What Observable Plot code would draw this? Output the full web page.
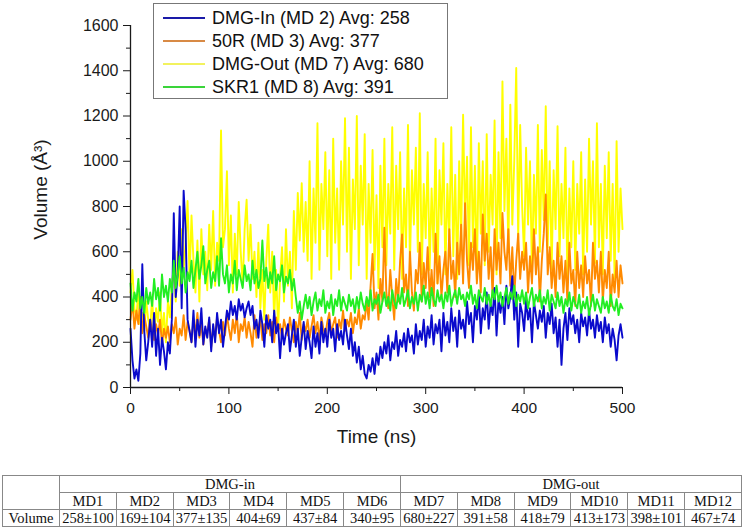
<!DOCTYPE html>
<html><head><meta charset="utf-8">
<script src="https://cdn.jsdelivr.net/npm/d3@7"></script>
<script src="https://cdn.jsdelivr.net/npm/@observablehq/plot@0.6"></script>
<style>
body{margin:0;background:#fff;font-family:"Liberation Sans",Arial,sans-serif;}
#wrap{position:relative;width:750px;height:530px;}
#legend{position:absolute;left:153px;top:3px;width:295px;height:96px;border:1px solid #777;background:#fff;box-sizing:border-box;}
.lrow{position:absolute;left:0;height:22px;width:290px;}
.lline{position:absolute;left:9px;width:42px;height:2px;top:10px;}
.ltext{position:absolute;left:58px;top:0;font-size:18px;line-height:22px;color:#111;white-space:nowrap;}
table{border-collapse:collapse;font-family:"Liberation Serif","Times New Roman",serif;font-size:14.5px;position:absolute;left:2px;top:475px;width:740px;table-layout:fixed;color:#111;}
td{border:1px solid #888;text-align:center;height:16px;padding:0;line-height:15px;}
</style>
</head><body>
<div id="wrap"><div id="chart"></div><div id="legend"></div><div id="tbl"></div></div>
<script>
// time step (ns) between sampled frames
const step = 2;
const yellowVals = [
420,520,350,300,450,280,330,250,380,300,
260,400,220,350,290,420,240,330,200,380,
310,450,520,380,600,450,700,520,640,824,
480,760,560,420,650,380,700,500,600,430,
720,520,780,450,640,560,1136,620,700,956,
540,760,420,680,500,820,600,450,700,830,
560,720,480,600,400,640,350,520,300,560,
720,420,600,300,520,250,480,620,380,700,
450,600,350,780,520,860,650,903,600,820,
560,1000,480,880,640,1168,520,900,700,1040,
580,960,480,1100,640,880,520,1000,720,1190,
600,1060,480,920,700,1200,540,980,720,1120,
480,900,640,1050,520,850,440,980,620,1100,
540,900,680,1150,520,980,700,1040,480,880,
620,1160,540,960,720,1060,600,1212,500,900,
660,1040,520,880,600,1100,460,960,720,1080,
500,900,660,1150,580,940,480,1000,640,1206,
720,1020,540,1150,620,980,480,1080,680,1000,
540,1120,600,940,720,1180,500,1040,660,1353,
780,1100,600,1250,720,1000,1412,660,1160,800,
580,1060,720,1000,500,940,680,1160,600,1050,
740,1243,620,1000,520,960,700,1155,580,900,
660,1060,480,880,620,1000,520,900,680,1040,
500,920,600,1100,720,1000,550,1168,620,900,
500,980,660,1040,560,900,480,1089,600,880,
700];
const orangeVals = [
300,380,260,340,280,400,240,320,270,220,
300,250,210,280,230,300,190,260,220,270,
200,280,240,310,190,260,230,320,210,290,
250,200,300,240,330,220,280,190,260,240,
300,180,270,220,310,250,200,290,230,320,
260,210,300,240,330,200,280,250,310,220,
290,240,180,320,220,270,300,210,280,240,
320,230,290,200,310,250,280,220,300,260,
230,310,250,200,290,240,330,210,280,250,
300,220,270,320,240,290,210,310,260,230,
290,330,240,280,310,220,300,260,340,250,
300,270,330,240,310,280,350,260,320,300,
380,300,450,590,350,420,300,480,380,706,
420,350,520,400,300,480,380,560,677,420,
500,360,600,420,340,520,460,640,380,550,
440,620,400,520,360,680,460,580,400,520,
600,420,700,480,560,400,640,500,720,460,
815,560,440,640,520,700,460,600,420,765,
560,680,480,620,400,700,520,640,460,771,
600,520,700,450,620,400,560,680,480,600,
520,640,420,580,460,700,500,620,380,560,
680,853,500,620,440,560,400,640,480,580,
420,560,380,640,460,520,360,600,440,540,
400,580,460,520,360,640,480,560,420,600,
380,520,440,600,360,500,420,560,400,540,
460];
const blueVals = [
260,120,40,80,30,150,545,250,120,200,
300,180,330,140,260,100,220,160,80,200,
150,300,770,400,500,800,350,870,700,300,
250,200,340,180,300,230,350,190,270,220,
310,160,280,200,330,240,300,180,260,340,
300,380,320,360,300,390,340,370,310,350,
380,320,360,260,300,220,340,280,180,320,
260,300,200,340,240,280,130,260,190,240,
280,160,230,300,180,260,140,220,290,170,
250,200,130,270,180,240,150,290,200,260,
180,300,220,260,160,280,210,250,190,300,
230,170,260,140,200,110,180,80,140,60,
40,100,70,130,60,150,100,180,130,200,
150,230,120,200,170,250,140,210,180,240,
160,260,200,230,150,280,190,250,210,300,
180,270,220,320,190,280,240,300,160,330,
230,290,200,350,250,310,180,340,260,300,
220,380,280,330,200,360,300,410,240,350,
300,420,260,370,320,440,230,390,330,400,
280,450,350,400,492,300,420,180,370,330,
250,390,300,350,200,380,320,260,340,290,
360,220,330,280,370,240,310,180,300,100,
260,330,210,350,280,320,240,300,200,330,
270,310,230,340,260,300,220,320,250,290,
200,310,240,280,180,260,210,120,230,280,
220];
const greenVals = [
460,340,420,380,480,350,400,330,440,370,
420,360,480,390,440,340,500,400,450,380,
480,420,560,440,500,580,460,530,420,510,
470,560,440,520,600,480,540,625,460,520,
560,440,510,470,580,450,660,500,460,540,
420,500,460,560,430,520,480,440,540,470,
500,430,560,460,520,440,480,650,470,530,
440,510,460,580,430,500,470,540,420,490,
460,520,430,480,400,330,380,300,360,410,
350,400,320,380,420,340,390,360,430,330,
380,350,410,320,390,360,430,340,400,370,
340,410,360,390,330,400,350,420,370,340,
400,360,430,340,390,370,410,330,380,420,
360,400,340,430,380,350,410,370,440,360,
390,430,350,400,370,420,340,410,380,450,
370,420,350,440,390,360,430,380,410,350,
420,380,450,360,400,430,370,440,390,410,
360,420,390,450,370,410,350,430,400,380,
440,370,410,360,430,390,450,380,420,360,
400,440,370,420,390,450,360,410,380,430,
370,420,350,400,440,360,410,380,430,350,
400,370,430,340,410,380,350,420,360,400,
330,390,360,420,340,400,370,350,410,330,
380,350,400,320,370,410,340,390,360,330,
400,350,380,330,410,360,340,390,320,370,
350];

const seriesNames = ["DMG-In (MD 2) Avg: 258","50R (MD 3) Avg: 377","DMG-Out (MD 7) Avg: 680","SKR1 (MD 8) Avg: 391"];
const seriesColors = ["#0a0acc","#ff8a00","#ffff00","#22ee22"];
const legendColors = ["#1a1aa8","#d88a45","#f2f25e","#3ad43a"];
const xMajor = [0,100,200,300,400,500];
const xMinor = [50,150,250,350,450];
const yMajor = [0,200,400,600,800,1000,1200,1400,1600];
const yMinor = [100,300,500,700,900,1100,1300,1500];

const groupNames = ["DMG-in","DMG-out"];
const mdNames = ["MD1","MD2","MD3","MD4","MD5","MD6","MD7","MD8","MD9","MD10","MD11","MD12"];
const mdVolumes = ["258±100","169±104","377±135","404±69","437±84","340±95","680±227","391±58","418±79","413±173","398±101","467±74"];

const toRows = vals => vals.map((v,i)=>({t:i*step, v}));
const drawOrder = [[yellowVals,2],[orangeVals,1],[blueVals,0],[greenVals,3]];

const chart = Plot.plot({
  width:750, height:465,
  marginLeft:130, marginRight:128, marginTop:25, marginBottom:78,
  x:{domain:[0,500]}, y:{domain:[0,1600]},
  style:{fontFamily:"'Liberation Sans', Arial, sans-serif", fontSize:"16px", color:"#1a1a1a", background:"transparent"},
  marks:[
    ...drawOrder.map(([vals,ci]) => Plot.line(toRows(vals), {x:"t", y:"v", stroke:seriesColors[ci], strokeWidth:1.9})),
    Plot.ruleX([0], {stroke:"#1a1a1a", strokeWidth:1.3}),
    Plot.ruleY([0], {stroke:"#1a1a1a", strokeWidth:1.3}),
    Plot.axisX(xMajor, {tickSize:7, tickPadding:7, label:null, fontSize:15.5, tickFormat:d3.format("d")}),
    Plot.axisX(xMinor, {tickSize:4, text:null, label:null}),
    Plot.axisY(yMajor, {tickSize:7, tickPadding:5, label:null, tickFormat:d3.format("d")}),
    Plot.axisY(yMinor, {tickSize:4, text:null, label:null}),
    Plot.text(["Time (ns)"], {frameAnchor:"bottom", dy:49, fontSize:19, fill:"#1a1a1a", lineAnchor:"middle", textAnchor:"middle"}),
    Plot.text(["Volume (Å³)"], {frameAnchor:"left", dx:-90, dy:-17, rotate:-90, fontSize:19, fill:"#1a1a1a", textAnchor:"middle", lineAnchor:"middle"})
  ]
});
document.getElementById("chart").appendChild(chart);

const legend = document.getElementById("legend");
seriesNames.forEach((name,i)=>{
  const row = document.createElement("div");
  row.className = "lrow";
  row.style.top = (3 + i*23) + "px";
  row.innerHTML = `<div class="lline" style="background:${legendColors[i]}"></div><div class="ltext">${name}</div>`;
  legend.appendChild(row);
});

let html = `<table><colgroup><col style="width:57px">${mdNames.map(()=>'<col>').join("")}</colgroup>`;
html += `<tr><td rowspan="2"></td>${groupNames.map(g=>`<td colspan="6">${g}</td>`).join("")}</tr>`;
html += `<tr>${mdNames.map(m=>`<td>${m}</td>`).join("")}</tr>`;
html += `<tr><td>Volume</td>${mdVolumes.map(v=>`<td>${v}</td>`).join("")}</tr></table>`;
document.getElementById("tbl").innerHTML = html;
</script>
</body></html>
